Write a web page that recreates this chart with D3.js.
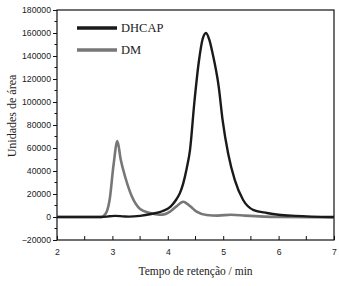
<!DOCTYPE html>
<html>
<head>
<meta charset="utf-8">
<script src="https://cdn.jsdelivr.net/npm/d3@7"></script>
<style>
  body { margin: 0; background: #fff; }
  svg { display: block; }
</style>
</head>
<body>
<div id="chart"></div>
<script>
// retention time (min) and area units
const dhcapTime = [2.0, 2.8, 2.95, 3.05, 3.2, 3.3, 3.5, 3.7, 3.9, 4.05, 4.15, 4.22, 4.28, 4.34, 4.4, 4.48, 4.56, 4.63, 4.69, 4.75, 4.81, 4.92, 4.99, 5.09, 5.21, 5.36, 5.55, 5.79, 6.0, 6.3, 7.0];
const dhcapArea = [0, 0, 600, 1000, 500, 300, 1000, 2600, 5000, 9000, 15000, 21000, 29500, 42000, 58000, 100000, 135000, 155000, 160000, 154000, 142000, 113000, 84000, 55000, 32000, 14800, 6000, 3500, 2000, 1000, 0];

const dmTime = [2.0, 2.8, 2.88, 2.95, 3.02, 3.09, 3.15, 3.23, 3.35, 3.5, 3.68, 3.85, 3.95, 4.04, 4.15, 4.28, 4.4, 4.52, 4.7, 4.9, 5.15, 5.4, 6.0, 7.0];
const dmArea = [0, 0, 3000, 15000, 45000, 66000, 50000, 35000, 18000, 7000, 3500, 2000, 2500, 4600, 9000, 13300, 9500, 4600, 1700, 1200, 2000, 1200, 0, -300];

const xTicks = [2, 3, 4, 5, 6, 7];
const yTicks = [-20000, 0, 20000, 40000, 60000, 80000, 100000, 120000, 140000, 160000, 180000];

const W = 339, H = 286;
const margin = { top: 10, right: 5, bottom: 46, left: 57 };
const width = W - margin.left - margin.right;
const height = H - margin.top - margin.bottom;

const svg = d3.select("#chart")
  .append("svg")
  .attr("width", W)
  .attr("height", H);

const g = svg.append("g")
  .attr("transform", "translate(" + margin.left + "," + margin.top + ")");

const x = d3.scaleLinear().domain([2, 7]).range([0, width]);
const y = d3.scaleLinear().domain([-20000, 180000]).range([height, 0]);

// frame
g.append("rect")
  .attr("width", width)
  .attr("height", height)
  .attr("fill", "none")
  .attr("stroke", "#111")
  .attr("stroke-width", 1.2);

// minor ticks
g.selectAll("line.xminor")
  .data(d3.range(2.5, 7, 1))
  .enter().append("line")
  .attr("x1", d => x(d)).attr("x2", d => x(d))
  .attr("y1", height).attr("y2", height - 4)
  .attr("stroke", "#111");

g.selectAll("line.yminor")
  .data(d3.range(-10000, 180000, 20000))
  .enter().append("line")
  .attr("x1", 0).attr("x2", -2.5)
  .attr("y1", d => y(d)).attr("y2", d => y(d))
  .attr("stroke", "#111");

const xAxis = d3.axisBottom(x)
  .tickValues(xTicks)
  .tickSizeInner(-4)
  .tickSizeOuter(0)
  .tickPadding(9)
  .tickFormat(d3.format("d"));

const yAxis = d3.axisLeft(y)
  .tickValues(yTicks)
  .tickSizeInner(4)
  .tickSizeOuter(0)
  .tickPadding(2)
  .tickFormat(d3.format("d"));

g.append("g")
  .attr("transform", "translate(0," + height + ")")
  .call(xAxis)
  .call(a => a.select(".domain").remove())
  .call(a => a.selectAll("line").attr("stroke", "#111"))
  .selectAll("text")
  .style("font-family", "'Liberation Sans', Arial, sans-serif")
  .style("font-size", "8.7px")
  .attr("fill", "#222");

g.append("g")
  .call(yAxis)
  .call(a => a.select(".domain").remove())
  .call(a => a.selectAll("line").attr("stroke", "#111"))
  .selectAll("text")
  .style("font-family", "'Liberation Sans', Arial, sans-serif")
  .style("font-size", "8.7px")
  .attr("fill", "#222");

// curves
const line = d3.line()
  .x(d => x(d[0]))
  .y(d => y(d[1]))
  .curve(d3.curveMonotoneX);

g.append("path")
  .datum(dmTime.map((t, i) => [t, dmArea[i]]))
  .attr("fill", "none")
  .attr("stroke", "#777")
  .attr("stroke-width", 2.6)
  .attr("d", line);

g.append("path")
  .datum(dhcapTime.map((t, i) => [t, dhcapArea[i]]))
  .attr("fill", "none")
  .attr("stroke", "#1a1a1a")
  .attr("stroke-width", 2.4)
  .attr("d", line);

// legend
const legend = [
  { name: "DHCAP", color: "#1a1a1a", y: 18 },
  { name: "DM", color: "#777", y: 40 }
];
legend.forEach(l => {
  g.append("line")
    .attr("x1", 20).attr("x2", 60)
    .attr("y1", l.y).attr("y2", l.y)
    .attr("stroke", l.color)
    .attr("stroke-width", 3.3);
  g.append("text")
    .attr("x", 64)
    .attr("y", l.y + 4)
    .style("font-family", "'Liberation Serif', 'Times New Roman', serif")
    .style("font-size", "12.5px")
    .attr("fill", "#222")
    .text(l.name);
});

// axis titles
svg.append("text")
  .attr("x", margin.left + width / 2)
  .attr("y", 275)
  .attr("text-anchor", "middle")
  .style("font-family", "'Liberation Serif', 'Times New Roman', serif")
  .style("font-size", "11.5px")
  .attr("fill", "#222")
  .text("Tempo de retenção / min");

svg.append("text")
  .attr("transform", "translate(16,116) rotate(-90)")
  .attr("text-anchor", "middle")
  .style("font-family", "'Liberation Serif', 'Times New Roman', serif")
  .style("font-size", "12px")
  .attr("fill", "#222")
  .text("Unidades de área");
</script>
</body>
</html>
